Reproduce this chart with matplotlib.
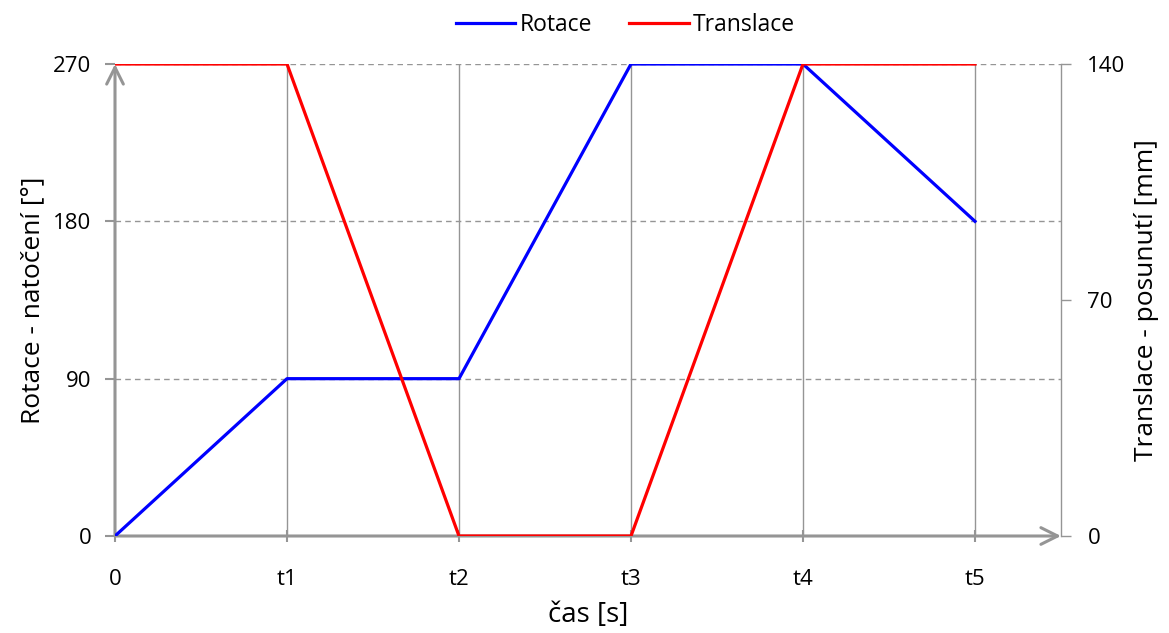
import numpy as np
import matplotlib.pyplot as plt

plt.rcParams['font.family'] = ['Open Sans', 'DejaVu Sans']

# data
x_labels = ["0", "t1", "t2", "t3", "t4", "t5"]
rotace = [0, 90, 90, 270, 270, 180]
translace = [140, 140, 0, 0, 140, 140]
rot_ticks = [0, 90, 180, 270]
tr_ticks = [0, 70, 140]

gray = '#959595'
x = np.arange(len(x_labels))

fig = plt.figure(figsize=(11.69, 6.33), dpi=100)
ax = fig.add_axes([115/1169, 1 - 536/633, (1061 - 115)/1169, (536 - 64)/633])
ax2 = ax.twinx()

ax.set_xlim(0, 5.5)
ax.set_ylim(0, 270)
ax2.set_ylim(0, 140)

# grid
for v in rot_ticks[1:]:
    ax.axhline(v, color=gray, lw=1, ls=(0, (4, 3)), zorder=1)
for xi in x[1:]:
    ax.axvline(xi, color=gray, lw=1, zorder=1)

l1, = ax.plot(x, rotace, color='#0000ff', lw=2.3, label='Rotace', zorder=3)
l2, = ax2.plot(x, translace, color='#ff0000', lw=2.3, label='Translace', zorder=3)

for s in ['top', 'left', 'bottom']:
    ax.spines[s].set_visible(False)
    ax2.spines[s].set_visible(False)
ax.spines['right'].set_visible(False)
ax2.spines['right'].set_color(gray)
ax2.spines['right'].set_linewidth(1)

# axis arrows
ax.annotate('', xy=(1, 0), xytext=(0, 0), xycoords='axes fraction',
            arrowprops=dict(arrowstyle='->', color=gray, lw=2.2, mutation_scale=30,
                            shrinkA=0, shrinkB=0), zorder=2)
ax.annotate('', xy=(0, 1), xytext=(0, 0), xycoords='axes fraction',
            arrowprops=dict(arrowstyle='->', color=gray, lw=2.2, mutation_scale=30,
                            shrinkA=0, shrinkB=0), zorder=2)

ax.set_xticks(x)
ax.set_xticklabels(x_labels)
ax.set_yticks(rot_ticks)
ax2.set_yticks(tr_ticks)
ax.tick_params(axis='x', direction='inout', length=8, color=gray, width=1.5, labelsize=16, pad=20)
ax.tick_params(axis='y', direction='out', length=7, color=gray, width=1.5, labelsize=16, pad=10)
ax2.tick_params(axis='y', direction='out', length=7, color=gray, width=1, labelsize=16, pad=12)

ax.set_xlabel('čas [s]', fontsize=20, labelpad=8)
ax.set_ylabel('Rotace - natočení [°]', fontsize=19, labelpad=6)
ax2.set_ylabel('Translace - posunutí [mm]', fontsize=19, labelpad=6)

fig.legend(handles=[l1, l2], loc='upper center', bbox_to_anchor=(0.535, 1.012), ncol=2,
           frameon=False, fontsize=16.5, handlelength=2.6, columnspacing=1.6, handletextpad=0.2)

fig.savefig('out.png', dpi=100)
